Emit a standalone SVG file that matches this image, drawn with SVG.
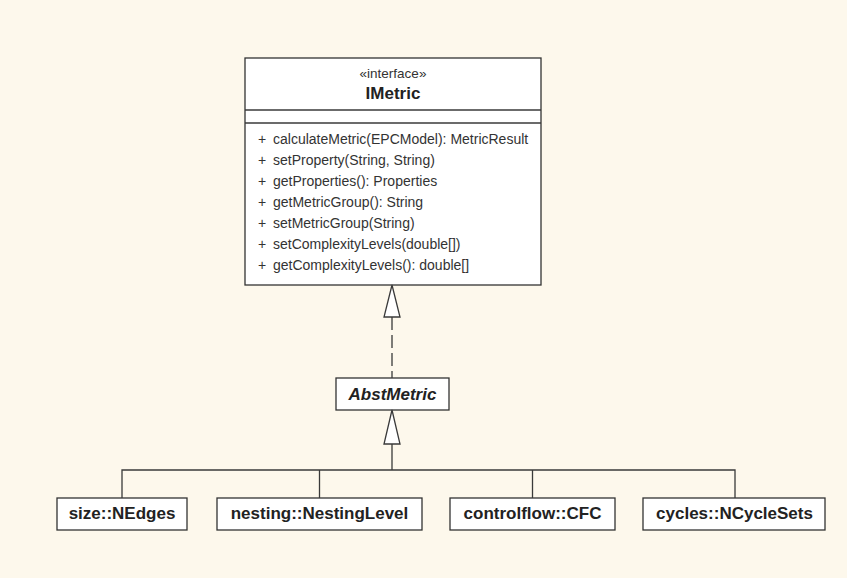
<svg xmlns="http://www.w3.org/2000/svg" width="847" height="578" viewBox="0 0 847 578">
  <style>
    .box { fill: #ffffff; stroke: #333333; stroke-width: 1.3; }
    .line { fill: none; stroke: #3a3a3a; stroke-width: 1.3; }
    .head { fill: #ffffff; stroke: #3a3a3a; stroke-width: 1.3; }
    .stereo { font-family: "Liberation Sans", Arial, sans-serif; font-size: 13.5px; fill: #333333; text-anchor: middle; }
    .title { font-family: "Liberation Sans", Arial, sans-serif; font-size: 17px; font-weight: bold; fill: #222222; text-anchor: middle; }
    .op { font-family: "Liberation Sans", Arial, sans-serif; font-size: 14px; fill: #333333; }
    .abstract { font-style: italic; }
  </style>
  <rect width="847" height="578" fill="#fdf8ec"/>

  <!-- interface IMetric -->
  <g id="IMetric">
    <rect class="box" x="245" y="58" width="296" height="227"/>
    <line class="line" x1="245" y1="110" x2="541" y2="110"/>
    <line class="line" x1="245" y1="123" x2="541" y2="123"/>
    <text class="stereo" x="393" y="78">«interface»</text>
    <text class="title" x="393" y="99">IMetric</text>
    <g class="op">
      <text x="258" y="144">+</text><text x="273" y="144">calculateMetric(EPCModel): MetricResult</text>
      <text x="258" y="165">+</text><text x="273" y="165">setProperty(String, String)</text>
      <text x="258" y="186">+</text><text x="273" y="186">getProperties(): Properties</text>
      <text x="258" y="207">+</text><text x="273" y="207">getMetricGroup(): String</text>
      <text x="258" y="228">+</text><text x="273" y="228">setMetricGroup(String)</text>
      <text x="258" y="249">+</text><text x="273" y="249">setComplexityLevels(double[])</text>
      <text x="258" y="270">+</text><text x="273" y="270">getComplexityLevels(): double[]</text>
    </g>
  </g>

  <!-- abstract base class -->
  <g id="AbstMetric">
    <rect class="box" x="336" y="378" width="113" height="32"/>
    <text class="title abstract" x="392.5" y="400">AbstMetric</text>
  </g>

  <!-- concrete metrics -->
  <g id="NEdges">
    <rect class="box" x="57" y="498" width="130" height="32"/>
    <text class="title" x="122" y="519">size::NEdges</text>
  </g>
  <g id="NestingLevel">
    <rect class="box" x="217" y="498" width="205" height="32"/>
    <text class="title" x="319.5" y="519">nesting::NestingLevel</text>
  </g>
  <g id="CFC">
    <rect class="box" x="450" y="498" width="165" height="32"/>
    <text class="title" x="532.5" y="519">controlflow::CFC</text>
  </g>
  <g id="NCycleSets">
    <rect class="box" x="643" y="498" width="182" height="32"/>
    <text class="title" x="734.5" y="519">cycles::NCycleSets</text>
  </g>

  <!-- realization and generalization connectors -->
  <g id="connectors">
    <line class="line" x1="392" y1="317" x2="392" y2="378" stroke-dasharray="13 5"/>
    <polygon class="head" points="392,285 384,317 400,317"/>
    <polyline class="line" points="392,444 392,470"/>
    <polygon class="head" points="392,410 384,444 400,444"/>
    <polyline class="line" points="122,498 122,470 735,470 735,498"/>
    <line class="line" x1="319.5" y1="470" x2="319.5" y2="498"/>
    <line class="line" x1="532.5" y1="470" x2="532.5" y2="498"/>
  </g>
</svg>
